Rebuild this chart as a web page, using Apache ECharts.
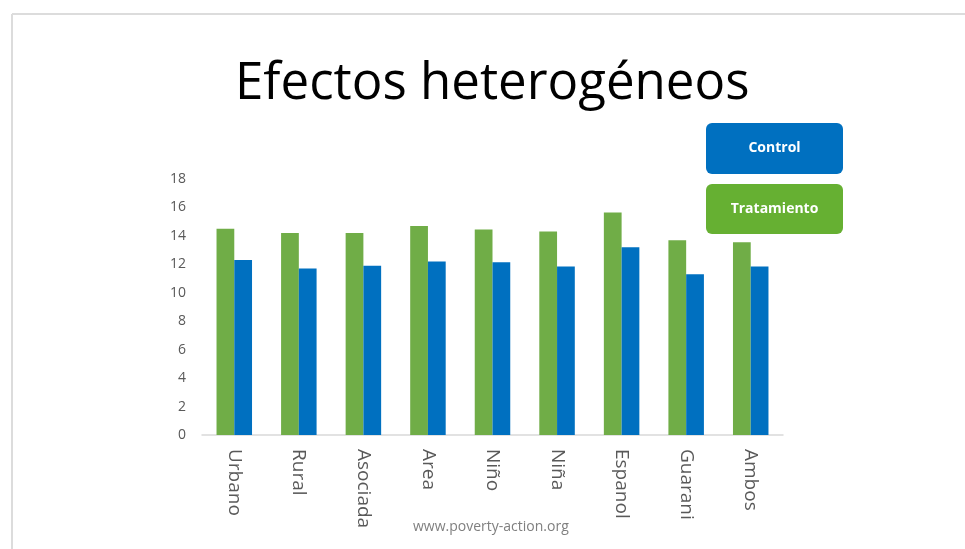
<!DOCTYPE html>
<html>
<head>
<meta charset="utf-8">
<script src="https://cdn.jsdelivr.net/npm/echarts@6/dist/echarts.min.js"></script>
<style>
  html, body { margin: 0; padding: 0; background: #fff; }
  #main { width: 965px; height: 549px; }
</style>
</head>
<body>
<div id="main"></div>
<script>
const categories = ['Urbano', 'Rural', 'Asociada', 'Area', 'Niño', 'Niña', 'Espanol', 'Guarani', 'Ambos'];
const tratamiento = [14.5, 14.2, 14.2, 14.7, 14.45, 14.3, 15.65, 13.7, 13.55];
const control = [12.3, 11.7, 11.9, 12.2, 12.15, 11.85, 13.2, 11.3, 11.85];

const chart = echarts.init(document.getElementById('main'));
chart.setOption({
  animation: false,
  title: {
    text: 'Efectos heterogéneos',
    left: 230,
    top: 54,
    textStyle: { fontFamily: 'Open Sans', fontSize: 51, fontWeight: 'normal', color: '#000' }
  },
  grid: { left: 202, right: 182, top: 179, bottom: 114 },
  xAxis: {
    type: 'category',
    data: categories,
    axisLine: { lineStyle: { color: '#d9d9d9', width: 1.5 } },
    axisTick: { show: false },
    axisLabel: {
      rotate: -90,
      color: '#595959',
      fontFamily: 'Open Sans',
      fontSize: 19,
      margin: 14
    }
  },
  yAxis: {
    type: 'value',
    min: 0,
    max: 18,
    interval: 2,
    axisLine: { show: false },
    axisTick: { show: false },
    splitLine: { show: false },
    axisLabel: { color: '#595959', fontFamily: 'Open Sans', fontSize: 14, margin: 16 }
  },
  series: [
    {
      name: 'Tratamiento',
      type: 'bar',
      data: tratamiento,
      barGap: '0%',
      barCategoryGap: '45%',
      itemStyle: { color: '#70AD47' }
    },
    {
      name: 'Control',
      type: 'bar',
      data: control,
      itemStyle: { color: '#0070C0' }
    }
  ],
  graphic: [
    { type: 'line', shape: { x1: 12, y1: 14, x2: 965, y2: 14 }, style: { stroke: '#dcdcdc', lineWidth: 2 } },
    { type: 'line', shape: { x1: 12, y1: 14, x2: 12, y2: 549 }, style: { stroke: '#dcdcdc', lineWidth: 2 } },
    {
      type: 'group', left: 706, top: 123,
      children: [
        { type: 'rect', shape: { x: 0, y: 0, width: 137, height: 51, r: 6 }, style: { fill: '#0070C0' } },
        { type: 'text', x: 68.5, y: 25.5, style: { text: 'Control', fill: '#fff', font: 'bold 14px "Open Sans"', align: 'center', verticalAlign: 'middle' } }
      ]
    },
    {
      type: 'group', left: 706, top: 184,
      children: [
        { type: 'rect', shape: { x: 0, y: 0, width: 137, height: 50, r: 6 }, style: { fill: '#66B032' } },
        { type: 'text', x: 68.5, y: 25, style: { text: 'Tratamiento', fill: '#fff', font: 'bold 14px "Open Sans"', align: 'center', verticalAlign: 'middle' } }
      ]
    },
    {
      type: 'text', left: 413, top: 520,
      style: { text: 'www.poverty-action.org', fill: '#7f7f7f', font: '14px "Open Sans"' }
    }
  ]
});
</script>
</body>
</html>
